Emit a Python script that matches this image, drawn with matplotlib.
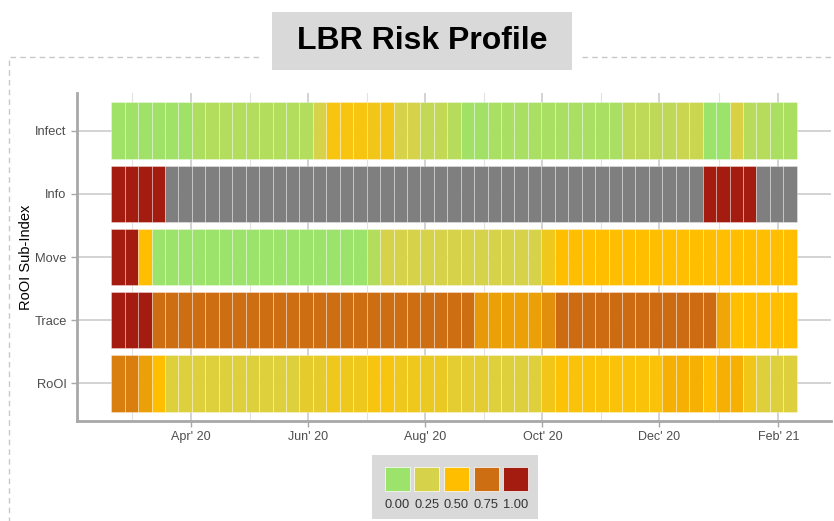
import numpy as np
import matplotlib
matplotlib.use("Agg")
import matplotlib.pyplot as plt
import matplotlib.dates as mdates
from matplotlib.colors import LinearSegmentedColormap
from matplotlib.patches import Rectangle
from matplotlib.lines import Line2D
import datetime as dt

plt.rcParams['font.family'] = ['Liberation Sans', 'DejaVu Sans']

# weekly observations
start = dt.date(2020, 2, 23)
weeks = [start + dt.timedelta(days=7 * i) for i in range(51)]

rows = ["Infect", "Info", "Move", "Trace", "RoOI"]

nan = np.nan
infect = [0.02] * 6 + [0.08] + [0.1] * 8 + [0.25, 0.45, 0.45, 0.45, 0.42, 0.42,
          0.25, 0.25, 0.17, 0.17, 0.12, 0.03, 0.03] + [0.06] * 10 + \
         [0.15] * 4 + [0.2, 0.2, 0.0, 0.0, 0.27, 0.12, 0.12, 0.07, 0.07]
info = [1.0] * 4 + [nan] * 40 + [1.0] * 4 + [nan] * 3
move = [1.0, 1.0, 0.5] + [0.0] * 16 + [0.1] + [0.25] * 12 + [0.4] + [0.5] * 18
trace = [1.0] * 3 + [0.75] * 24 + [0.62, 0.6, 0.6, 0.6, 0.6, 0.65] + \
        [0.76] * 12 + [0.58] + [0.5] * 5
rooi = [0.7, 0.7, 0.6, 0.5] + [0.3] * 10 + [0.35, 0.35, 0.4, 0.4, 0.4, 0.45, 0.45,
        0.4, 0.4, 0.38, 0.38, 0.33, 0.33, 0.33, 0.3, 0.3, 0.3, 0.3, 0.42, 0.48] + \
       [0.47] * 7 + [0.55, 0.55, 0.55, 0.5, 0.55, 0.55, 0.42, 0.3, 0.3, 0.3]

series = [infect, info, move, trace, rooi]

legend_values = [0.0, 0.25, 0.5, 0.75, 1.0]
legend_labels = ["0.00", "0.25", "0.50", "0.75", "1.00"]
palette = ["#9be36a", "#d6d34a", "#ffc000", "#cf6f12", "#a31c0f"]
na_colour = "#7f7f7f"

tick_dates = [dt.date(2020, 4, 1), dt.date(2020, 6, 1), dt.date(2020, 8, 1),
              dt.date(2020, 10, 1), dt.date(2020, 12, 1), dt.date(2021, 2, 1)]

cmap = LinearSegmentedColormap.from_list("risk", list(zip(legend_values, palette)))

W, H = 834, 521
fig = plt.figure(figsize=(W / 100, H / 100), dpi=100)
fig.patch.set_facecolor("white")

ax = fig.add_axes([77 / W, 1 - 421 / H, (831 - 77) / W, (421 - 93) / H])
ax.set_facecolor("white")

x = mdates.date2num(weeks)
for k, (name, vals) in enumerate(zip(rows, series)):
    ypos = len(rows) - k
    vals = np.array(vals, dtype=float)
    cols = [na_colour if np.isnan(v) else cmap(v) for v in vals]
    ax.barh(np.full(len(x), ypos), width=7, left=x - 3.5, height=0.9,
            color=cols, edgecolor=(1, 1, 1, 0.6), linewidth=0.4, zorder=3)

lo, hi = x[0] - 3.5, x[-1] + 3.5
pad = 0.05 * (hi - lo)
ax.set_xlim(lo - pad, hi + pad)
ax.set_ylim(0.4, len(rows) + 0.6)

ticks = mdates.date2num(tick_dates)
ax.set_xticks(ticks)
ax.set_xticklabels([d.strftime("%b' %y") for d in tick_dates])
minor = (ticks[:-1] + ticks[1:]) / 2
minor = np.concatenate([[ticks[0] - (ticks[1] - ticks[0]) / 2], minor])
ax.set_xticks(minor, minor=True)
ax.set_yticks(range(len(rows), 0, -1))
ax.set_yticklabels(rows)

ax.grid(True, which="major", color="#d0d0d0", linewidth=1.3, zorder=0)
ax.grid(True, which="minor", axis="x", color="#e2e2e2", linewidth=0.8, zorder=0)
ax.set_axisbelow(True)

for s in ["top", "right"]:
    ax.spines[s].set_visible(False)
for s in ["left", "bottom"]:
    ax.spines[s].set_color("#a8a8a8")
    ax.spines[s].set_linewidth(2)
ax.tick_params(axis="both", which="major", colors="#a8a8a8", length=4, width=1,
               labelcolor="#4d4d4d", labelsize=9)
ax.tick_params(axis="y", which="major", labelsize=9.3)
ax.tick_params(axis="x", which="minor", length=0)
ax.set_ylabel("RoOI Sub-Index", fontsize=10.5, color="black", labelpad=1)

# dashed frame with the title box breaking its top edge
dash = dict(color="#c8c8c8", linewidth=1, linestyle=(0, (4, 3)))
fig.add_artist(Line2D([10 / W, 262 / W], [1 - 57 / H] * 2, **dash))
fig.add_artist(Line2D([582 / W, 1.0], [1 - 57 / H] * 2, **dash))
fig.add_artist(Line2D([9 / W] * 2, [1 - 60 / H, 0], **dash))

fig.add_artist(Rectangle((272 / W, 1 - 70 / H), 300 / W, 58 / H,
                         facecolor="#d9d9d9", edgecolor="none"))
fig.text(422 / W, 1 - 41 / H, "LBR Risk Profile", ha="center", va="center",
         fontsize=23, fontweight="bold", color="black")

# colour key
fig.add_artist(Rectangle((372 / W, 1 - 519 / H), 166 / W, 64 / H,
                         facecolor="#d9d9d9", edgecolor="none"))
for i, (v, lab) in enumerate(zip(legend_values, legend_labels)):
    cx = 397 + 29.7 * i
    fig.add_artist(Rectangle(((cx - 12.5) / W, 1 - 491 / H), 25 / W, 24 / H,
                             facecolor=cmap(v), edgecolor="white", linewidth=0.5))
    fig.text(cx / W, 1 - 505 / H, lab, ha="center", va="center",
             fontsize=9.3, color="#333333")

fig.savefig("out.png", dpi=100)
